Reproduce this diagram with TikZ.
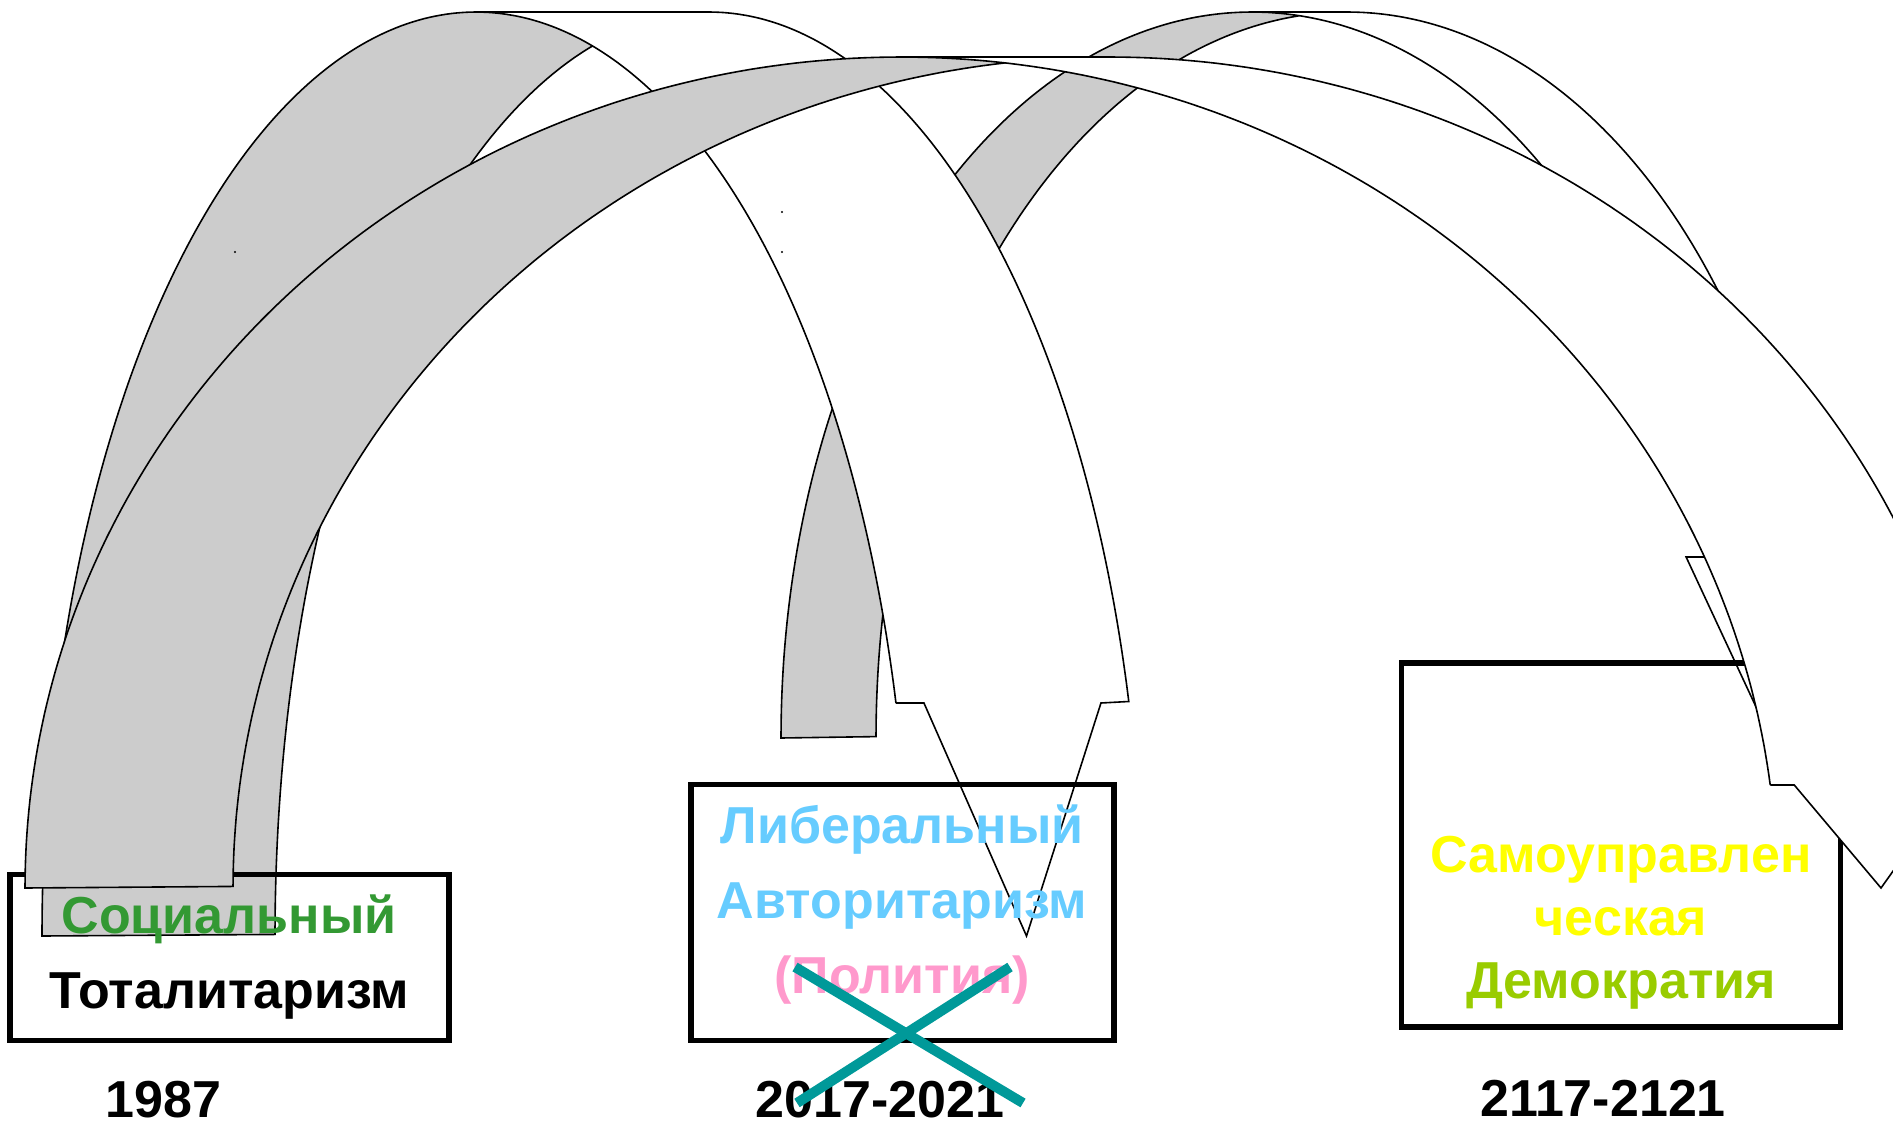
\documentclass[tikz,border=0pt]{standalone}
\usepackage{fontspec}
\setmainfont{Liberation Sans}
\definecolor{backgrey}{RGB}{204,204,204}
\definecolor{socgreen}{RGB}{51,153,51}
\definecolor{libblue}{RGB}{102,204,255}
\definecolor{polpink}{RGB}{255,153,204}
\definecolor{selfyellow}{RGB}{255,255,0}
\definecolor{demgreen}{RGB}{153,204,0}
\definecolor{crossteal}{RGB}{0,153,153}
\tikzset{
  arcline/.style={draw=black, line width=1.6pt, line join=miter},
  boxstyle/.style={draw=black, line width=5.5pt, inner sep=0pt, fill=none},
  lbl/.style={font=\fontsize{52}{60}\selectfont\bfseries, inner sep=0pt, anchor=base},
  yearlbl/.style={lbl, text depth=0pt},
  crossline/.style={draw=crossteal, line width=10pt},
}
% curvedDownArrow: #1 left, #2 top, #3 bottom, #4 ellipse x-radius, #5 band width, #6 arrowhead depth, #7 arrowhead width
\newcommand{\curvedarrow}[7]{%
  \pgfmathsetmacro\arL{#1}%
  \pgfmathsetmacro\arT{#2}%
  \pgfmathsetmacro\arB{#3}%
  \pgfmathsetmacro\arW{#4}%
  \pgfmathsetmacro\arTh{#5}%
  \pgfmathsetmacro\arAdy{#6}%
  \pgfmathsetmacro\arAw{#7}%
  \pgfmathsetmacro\arH{\arB-\arT}%
  \pgfmathsetmacro\arCa{\arL+\arW}%
  \pgfmathsetmacro\arCb{\arCa+\arTh}%
  \pgfmathsetmacro\arPi{acos(\arTh/(2*\arW))}%
  \pgfmathsetmacro\arPo{asin(\arAdy/\arH)}%
  \pgfmathsetmacro\arYo{\arB-\arAdy}%
  \pgfmathsetmacro\arXfive{\arCa+\arW*cos(\arPo)}%
  \pgfmathsetmacro\arXseven{\arCb+\arW*cos(\arPo)}%
  \pgfmathsetmacro\arDh{(\arAw-\arTh)/2}%
  \pgfmathsetmacro\arXfour{\arXfive-\arDh}%
  \pgfmathsetmacro\arXeight{\arXseven+\arDh}%
  \pgfmathsetmacro\arXsix{\arL+2*\arW+(\arTh+\arAw)/2-\arAw/2}%
  % front band
  \fill[white] (\arXsix,\arB) -- (\arXfour,\arYo) -- (\arXfive,\arYo)
    -- plot[domain=0:1,samples=120,variable=\s] ({\arCa+\arW*cos(\arPo+(90-\arPo)*\s)},{\arB-\arH*sin(\arPo+(90-\arPo)*\s)})
    -- plot[domain=0:1,samples=120,variable=\s] ({\arCb+\arW*cos(90+(\arPo-90)*\s)},{\arB-\arH*sin(90+(\arPo-90)*\s)})
    -- (\arXeight,\arYo) -- cycle;
  % back band
  \fill[backgrey] plot[domain=0:1,samples=120,variable=\s] ({\arCb+\arW*cos(180-\arPi+\arPi*\s)},{\arB-\arH*sin(180-\arPi+\arPi*\s)})
    -- (\arL,\arB)
    -- plot[domain=0:1,samples=160,variable=\s] ({\arCa+\arW*cos(180+(\arPi-180)*\s)},{\arB-\arH*sin(180+(\arPi-180)*\s)})
    -- cycle;
  % outline
  \draw[arcline] plot[domain=0:1,samples=120,variable=\s] ({\arCb+\arW*cos(180-\arPi+\arPi*\s)},{\arB-\arH*sin(180-\arPi+\arPi*\s)})
    -- (\arL,\arB)
    -- plot[domain=0:1,samples=120,variable=\s] ({\arCa+\arW*cos(180-90*\s)},{\arB-\arH*sin(180-90*\s)})
    -- plot[domain=0:1,samples=120,variable=\s] ({\arCb+\arW*cos(90+(\arPo-90)*\s)},{\arB-\arH*sin(90+(\arPo-90)*\s)})
    -- (\arXeight,\arYo) -- (\arXsix,\arB) -- (\arXfour,\arYo) -- (\arXfive,\arYo)
    -- plot[domain=0:1,samples=120,variable=\s] ({\arCa+\arW*cos(\arPo+(90-\arPo)*\s)},{\arB-\arH*sin(\arPo+(90-\arPo)*\s)});
}
\begin{document}
\begin{tikzpicture}[x=1pt,y=-1pt]
\useasboundingbox (0,0) rectangle (1893,1121);
\fill[white] (0,0) rectangle (1893,1121);
\clip (0,0) rectangle (1893,1121);

% arrow from middle to right (lowest)
\curvedarrow{781}{12}{738}{471}{95}{181}{139}
% arrow from left to middle
\curvedarrow{42}{12}{936}{434}{233}{233}{177}

% box 1
\node[boxstyle, minimum width=439pt, minimum height=166pt] (box1) at (229.5,957.5) {};
\node[lbl, text=socgreen] (t1a) at (229,933) {Социальный};
\node[lbl, text=black] (t1b) at (229.5,1008) {Тоталитаризм};

% box 2
\node[boxstyle, minimum width=423pt, minimum height=256pt] (box2) at (902.5,912.5) {};
\node[lbl, text=libblue] (t2a) at (902,843) {Либеральный};
\node[lbl, text=libblue] (t2b) at (902,918) {Авторитаризм};
\node[lbl, text=polpink] (t2c) at (902,993) {(Полития)};

% box 3
\node[boxstyle, minimum width=439pt, minimum height=364pt] (box3) at (1621,845) {};
\node[lbl, text=selfyellow] (t3a) at (1621,872) {Самоуправлен};
\node[lbl, text=selfyellow] (t3b) at (1621,935) {ческая};
\node[lbl, text=demgreen] (t3c) at (1621,998) {Демократия};

% arrow from left to right (top-most)
\curvedarrow{25}{57}{888}{876}{208}{103}{160}

% years
\node[yearlbl] (y1) at (163.5,1117) {1987};
\node[yearlbl] (y2) at (880,1117) {2017-2021};
\node[yearlbl] (y3) at (1603,1116) {2117-2121};

% cross
\coordinate (xa) at (795,967);
\coordinate (xb) at (1023,1103);
\coordinate (xc) at (1010,967);
\coordinate (xd) at (797,1103);
\draw[crossline] (xa) -- (xb);
\draw[crossline] (xc) -- (xd);

% stray dots
\fill (235,252) circle (1.2);
\fill (782,212) circle (1.2);
\fill (782,252) circle (1.2);
\end{tikzpicture}
\end{document}
